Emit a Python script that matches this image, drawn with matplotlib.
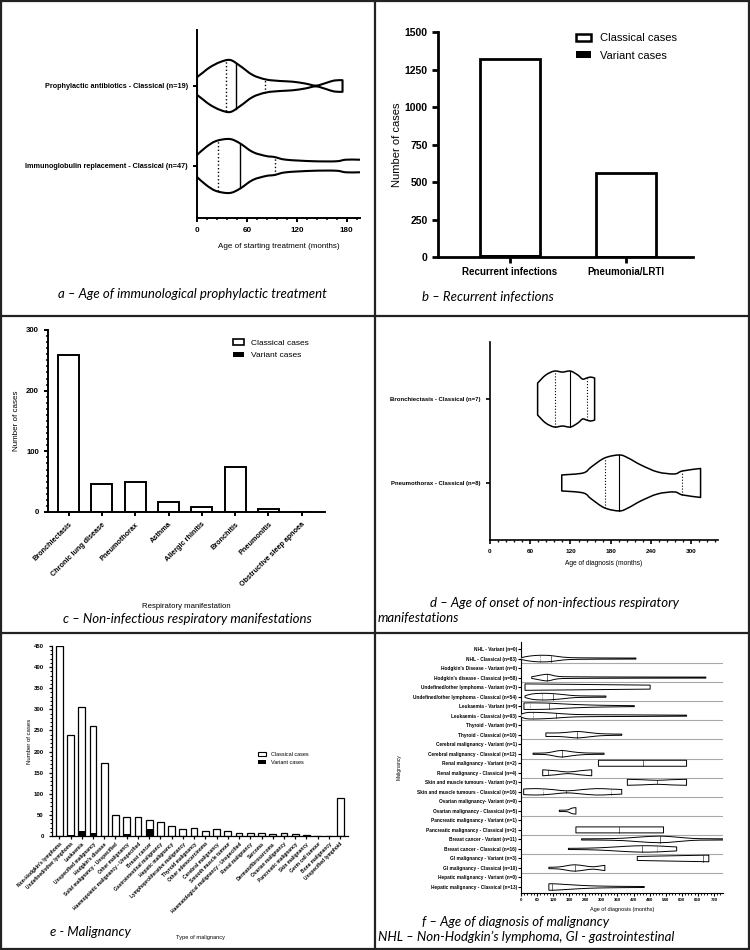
import numpy as np
import matplotlib
matplotlib.use("Agg")
import matplotlib.pyplot as plt
from matplotlib.path import Path
from matplotlib.patches import PathPatch, Patch
from matplotlib.lines import Line2D
from matplotlib.ticker import MultipleLocator

plt.rcParams['font.family'] = ['Liberation Sans', 'DejaVu Sans']
plt.rcParams['font.weight'] = 'bold'
CAPTION_FONT = ['Lato', 'DejaVu Sans']

# ---- panel a: age of starting treatment (violin outlines) ----
a_labels = ["Immunoglobulin replacement - Classical (n=47)",
            "Prophylactic antibiotics - Classical (n=19)"]
a_ages = [[0, 11, 23, 39, 51, 67, 83, 93, 107, 139, 167, 179, 195, 215],
          [0, 8, 16, 28, 40, 52, 67, 83, 100, 115, 130, 143, 155, 165, 175]]
a_halfs = [[11, 19, 25, 27, 23, 14, 10, 9, 6.3, 4.8, 4.7, 6.3, 6.3, 6],
           [8.8, 14, 19, 24, 26, 20, 11, 6.5, 5, 4.3, 2.5, 0.4, 3, 5.5, 5.8]]
a_median = [52, 47]
a_q1 = [25, 35]
a_q3 = [94, 82]

# ---- panel b: recurrent infections ----
b_categories = ["Recurrent infections", "Pneumonia/LRTI"]
b_classical = [1320, 558]
b_variant = [15, 5]

# ---- panel c: non-infectious respiratory manifestations ----
c_categories = ["Bronchiectasis", "Chronic lung disease", "Pneumothorax", "Asthma",
                "Allergic rhinitis", "Bronchitis", "Pneumonitis", "Obstructive sleep apnoea"]
c_classical = [259, 46, 49, 16, 8, 75, 5, 0]
c_variant = [0, 0, 0, 0, 0, 0, 0, 0]

# ---- panel d: age of onset of respiratory manifestations ----
d_labels = ["Pneumothorax - Classical (n=8)", "Bronchiectasis - Classical (n=7)"]
d_ages = [[107, 139, 151, 171, 193, 206, 225, 250, 275, 287, 314],
          [71, 83, 96, 108, 120, 131, 138, 144, 150, 156]]
d_halfs = [[8, 10, 16, 25, 28, 25, 18, 11, 9, 12, 14.5],
           [16, 24, 28, 27, 28, 24, 20, 21, 22, 21]]
d_median = [193, 120]
d_q1 = [172, 97]
d_q3 = [287, 144]

# ---- panel e: malignancy ----
e_categories = ["Non-Hodgkin's lymphoma", "Undefined/other lymphoma", "Leukaemia",
                "Unspecified malignancy", "Hodgkin's disease", "Solid malignancy - Unspecified",
                "Other malignancy", "Haemopoietic malignancy - Unspecified", "Breast cancer",
                "Gastrointestinal malignancy", "Hepatic malignancy", "Lymphoproliferative malignancy",
                "Thyroid malignancy", "Other adenocarcinoma", "Cerebral malignancy",
                "Smooth muscle tumour", "Haematological malignancy - Unspecified",
                "Renal malignancy", "Sarcoma", "Dermatofibrosarcoma", "Ovarian malignancy",
                "Pancreatic malignancy", "Skin malignancy", "Germ cell tumour",
                "Bone malignancy", "Unspecified lymphoid"]
e_classical = [450, 239, 306, 260, 174, 49, 44, 46, 37, 32, 23, 16, 19, 13, 16, 12,
               6, 8, 8, 4, 6, 5, 3, 0, 0, 90]
e_variant = [0, 2, 13, 6, 0, 0, 5, 0, 16, 0, 0, 0, 0, 0, 0, 0,
             0, 0, 0, 0, 0, 0, 0, 0, 0, 0]

# ---- panel f: age of diagnosis of malignancy (top row first) ----
f_labels = ["NHL - Variant (n=0)", "NHL - Classical (n=83)",
            "Hodgkin's Disease - Variant (n=0)", "Hodgkin's disease - Classical (n=58)",
            "Undefined/other lymphoma - Variant (n=3)", "Undefined/other lymphoma - Classical (n=54)",
            "Leukaemia - Variant (n=9)", "Leukaemia - Classical (n=93)",
            "Thyroid - Variant (n=0)", "Thyroid - Classical (n=10)",
            "Cerebral malignancy - Variant (n=1)", "Cerebral malignancy - Classical (n=12)",
            "Renal malignancy - Variant (n=2)", "Renal malignancy - Classical (n=4)",
            "Skin and muscle tumours - Variant (n=3)", "Skin and muscle tumours - Classical (n=16)",
            "Ovarian malignancy- Variant (n=0)", "Ovarian malignancy - Classical (n=5)",
            "Pancreatic malignancy - Variant (n=1)", "Pancreatic malignancy - Classical (n=2)",
            "Breast cancer - Variant (n=11)", "Breast cancer - Classical (n=16)",
            "GI malignancy - Variant (n=3)", "GI malignancy - Classical (n=10)",
            "Hepatic malignancy - Variant (n=0)", "Hepatic malignancy - Classical (n=13)"]
f_ages = [None, [0, 20, 50, 80, 110, 140, 180, 250, 330, 429],
          None, [40, 60, 80, 98, 115, 140, 200, 400, 690],
          [15, 100, 250, 400, 482], [15, 40, 77, 118, 160, 200, 250, 317],
          [11, 33, 70, 105, 160, 250, 350, 423], [0, 20, 46, 90, 130, 180, 250, 400, 618],
          None, [93, 140, 180, 210, 240, 280, 320, 376],
          None, [45, 90, 120, 152, 190, 240, 310],
          [289, 454, 618], [81, 130, 175, 220, 264],
          [397, 450, 509, 560, 618], [10, 60, 120, 170, 220, 280, 330, 376],
          None, [143, 160, 175, 185, 195, 205],
          None, [205, 367, 532],
          [226, 300, 380, 440, 517, 580, 640, 700, 760], [177, 250, 320, 390, 450, 506, 550, 581],
          [434, 550, 678, 701], [104, 140, 170, 201, 240, 270, 300, 313],
          None, [104, 122, 150, 200, 260, 330, 400, 460]]
f_halfs = [None, [0.8, 2.0, 3.0, 3.3, 3.0, 2.0, 1.0, 0.7, 0.6, 0.5],
           None, [0.8, 1.8, 2.8, 3.3, 2.5, 1.2, 0.8, 0.6, 0.5],
           [3.2, 3.0, 2.6, 2.2, 2.0], [0.8, 2.6, 3.3, 3.0, 2.0, 1.0, 0.7, 0.6],
           [3.2, 3.3, 3.2, 3.0, 2.2, 1.2, 0.7, 0.5], [1.5, 3.0, 3.3, 3.0, 2.4, 1.5, 1.0, 0.8, 0.5],
           None, [1.8, 1.8, 2.6, 3.2, 2.6, 1.4, 0.8, 0.6],
           None, [0.6, 0.8, 2.0, 3.3, 2.0, 0.8, 0.6],
           [3.0, 3.0, 3.0], [3.0, 2.0, 0.8, 2.0, 3.0],
           [3.0, 2.6, 2.0, 2.6, 3.0], [2.8, 3.2, 2.2, 1.0, 2.0, 3.2, 2.8, 2.3],
           None, [0.7, 0.7, 1.0, 2.2, 3.0, 3.2],
           None, [3.0, 3.0, 3.0],
           [0.6, 0.7, 1.2, 2.3, 3.3, 2.3, 1.0, 0.7, 0.6], [0.6, 0.8, 1.5, 2.6, 3.2, 3.0, 2.4, 2.0],
           [2.0, 2.6, 3.2, 3.3], [0.7, 1.0, 2.2, 3.2, 2.0, 1.2, 2.2, 2.6],
           None, [3.2, 3.2, 2.8, 2.0, 1.2, 0.8, 0.6, 0.5]]
f_median = [None, 111, None, 98, None, 118, 105, 130, None, 210, None, 152, 454, 100,
            509, 167, None, None, None, 367, 517, 450, 678, 201, None, 115]
f_q1 = [None, 71, None, None, None, 77, 33, 46, None, None, None, None, None, None,
        None, 83, None, None, None, None, None, None, None, None, None, None]
f_q3 = [None, None, None, None, None, None, None, None, None, None, None, None, None, None,
        None, 336, None, None, None, None, None, 506, None, None, None, None]

W, H = 750, 950
fig = plt.figure(figsize=(7.5, 9.5), dpi=100)


def add_ax(x0, y0, x1, y1):
    return fig.add_axes([x0 / W, 1 - y1 / H, (x1 - x0) / W, (y1 - y0) / H])


def cr_bezier(pts):
    pts = np.asarray(pts, float)
    ext = np.vstack([pts[0], pts, pts[-1]])
    verts, codes = [], []
    for i in range(len(pts) - 1):
        p0, p1, p2, p3 = ext[i], ext[i + 1], ext[i + 2], ext[i + 3]
        verts += [p1 + (p2 - p0) / 6, p2 - (p3 - p1) / 6, p2]
        codes += [Path.CURVE4] * 3
    return verts, codes


def violin(ax, y, ages, halfs, med, q1, q3, px_per_unit, lw, mlw):
    ages = np.asarray(ages, float)
    h = np.asarray(halfs, float) / px_per_unit
    top = np.column_stack([ages, y + h])
    bot = np.column_stack([ages[::-1], y - h[::-1]])
    verts, codes = [top[0]], [Path.MOVETO]
    v, c = cr_bezier(top)
    verts += v
    codes += c
    verts.append(bot[0])
    codes.append(Path.LINETO)
    v, c = cr_bezier(bot)
    verts += v
    codes += c
    verts.append(top[0])
    codes.append(Path.CLOSEPOLY)
    ax.add_patch(PathPatch(Path(verts, codes), facecolor='white', edgecolor='black',
                           lw=lw, joinstyle='round', zorder=3))
    for val, ls in ((med, '-'), (q1, ':'), (q3, ':')):
        if val is None:
            continue
        hh = np.interp(val, ages, h)
        ax.plot([val, val], [y - hh, y + hh], color='black', lw=mlw, ls=ls, zorder=4)


def style(ax, lw, size):
    for s in ('top', 'right'):
        ax.spines[s].set_visible(False)
    for s in ('left', 'bottom'):
        ax.spines[s].set_linewidth(lw)
    ax.tick_params(which='major', width=lw, length=size, labelsize=6)
    ax.tick_params(which='minor', width=lw * 0.8, length=size * 0.55)


# ---------- a ----------
ax = add_ax(197, 30, 360, 218)
for i in range(len(a_labels)):
    violin(ax, i + 1, a_ages[i], a_halfs[i], a_median[i], a_q1[i], a_q3[i], 80, 1.5, 1.0)
ax.set_xlim(0, 196)
ax.set_ylim(0.35, 2.7)
ax.set_yticks([1, 2])
ax.set_yticklabels(a_labels, fontsize=5.2)
ax.set_xticks([0, 60, 120, 180])
ax.xaxis.set_minor_locator(MultipleLocator(12))
style(ax, 1.4, 3)
ax.tick_params(axis='x', labelsize=5.8)
ax.tick_params(axis='y', labelsize=5.2)
ax.set_xlabel("Age of starting treatment (months)", fontsize=5.8)
ax.xaxis.set_label_coords(0.5, -0.135)

# ---------- b ----------
ax = add_ax(438, 32, 693, 257)
xb = np.arange(len(b_categories))
ax.bar(xb, b_classical, width=0.52, facecolor='white', edgecolor='black', lw=2.0,
       label='Classical cases', zorder=2)
ax.bar(xb, b_variant, width=0.52, color='black', label='Variant cases', zorder=3)
ax.set_xlim(-0.62, 1.58)
ax.set_ylim(0, 1500)
ax.set_yticks(np.arange(0, 1501, 250))
ax.set_xticks(xb)
ax.set_xticklabels(b_categories)
style(ax, 2.0, 4)
ax.tick_params(axis='y', labelsize=7.5)
ax.tick_params(axis='x', labelsize=7)
ax.set_ylabel("Number of cases", fontsize=8)
ax.yaxis.set_label_coords(-0.14, 0.5)
ax.legend(handles=[Patch(facecolor='white', edgecolor='black', lw=1.8, label='Classical cases'),
                   Patch(facecolor='black', label='Variant cases')],
          loc='upper left', bbox_to_anchor=(0.5, 1.04), frameon=False,
          prop={'weight': 'normal', 'size': 8}, handlelength=1.4, handleheight=0.6,
          labelspacing=0.7)

# ---------- c ----------
ax = add_ax(48, 330, 325, 512)
xc = np.arange(len(c_categories))
ax.bar(xc, c_classical, width=0.63, facecolor='white', edgecolor='black', lw=1.4, zorder=2)
ax.bar(xc, c_variant, width=0.63, color='black', zorder=3)
ax.set_xlim(-0.62, 7.7)
ax.set_ylim(0, 300)
ax.set_yticks([0, 100, 200, 300])
ax.yaxis.set_minor_locator(MultipleLocator(10))
ax.set_xticks(xc)
ax.set_xticklabels(c_categories, rotation=45, ha='right', rotation_mode='anchor')
style(ax, 1.4, 3)
ax.tick_params(axis='y', labelsize=5.6)
ax.tick_params(axis='x', labelsize=5.2)
ax.set_ylabel("Number of cases", fontsize=5.8)
ax.yaxis.set_label_coords(-0.10, 0.5)
ax.set_xlabel("Respiratory manifestation", fontsize=5.6)
ax.xaxis.set_label_coords(0.5, -0.50)
ax.legend(handles=[Patch(facecolor='white', edgecolor='black', lw=1.2, label='Classical cases'),
                   Patch(facecolor='black', label='Variant cases')],
          loc='upper left', bbox_to_anchor=(0.64, 0.99), frameon=False,
          prop={'weight': 'normal', 'size': 6}, handlelength=1.4, handleheight=0.6,
          labelspacing=0.6)

# ---------- d ----------
ax = add_ax(490, 342, 718, 540)
for i in range(len(d_labels)):
    violin(ax, i + 1, d_ages[i], d_halfs[i], d_median[i], d_q1[i], d_q3[i], 84, 1.1, 0.8)
ax.set_xlim(0, 340)
ax.set_ylim(0.32, 2.68)
ax.set_yticks([1, 2])
ax.set_yticklabels(d_labels)
ax.set_xticks(np.arange(0, 301, 60))
ax.xaxis.set_minor_locator(MultipleLocator(12))
style(ax, 1.2, 3)
ax.tick_params(axis='x', labelsize=4.6)
ax.tick_params(axis='y', labelsize=4.3)
ax.set_xlabel("Age of diagnosis (months)", fontsize=4.8)
ax.xaxis.set_label_coords(0.5, -0.10)

# ---------- e ----------
ax = add_ax(52, 646, 348, 836)
xe = np.arange(len(e_categories))
ax.bar(xe, e_classical, width=0.6, facecolor='white', edgecolor='black', lw=0.9, zorder=2)
ax.bar(xe, e_variant, width=0.6, color='black', zorder=3)
ax.set_xlim(-0.65, 25.7)
ax.set_ylim(0, 450)
ax.set_yticks(np.arange(0, 451, 50))
ax.yaxis.set_minor_locator(MultipleLocator(10))
ax.set_xticks(xe)
ax.set_xticklabels(e_categories, rotation=45, ha='right', rotation_mode='anchor')
style(ax, 0.9, 2.5)
ax.tick_params(axis='y', labelsize=4.3)
ax.tick_params(axis='x', labelsize=3.5, pad=1.5)
ax.set_ylabel("Number of cases", fontsize=4.3)
ax.yaxis.set_label_coords(-0.068, 0.5)
ax.set_xlabel("Type of malignancy", fontsize=4.1)
ax.xaxis.set_label_coords(0.5, -0.52)
ax.legend(handles=[Patch(facecolor='white', edgecolor='black', lw=0.8, label='Classical cases'),
                   Patch(facecolor='black', label='Variant cases')],
          loc='upper left', bbox_to_anchor=(0.68, 0.47), frameon=False,
          prop={'weight': 'normal', 'size': 4}, handlelength=1.4, handleheight=0.6,
          labelspacing=0.6)

# ---------- f ----------
ax = add_ax(521, 642, 723, 893)
nrow = len(f_labels)
ypos = nrow - 1 - np.arange(nrow)
for k in range(nrow):
    if f_ages[k] is None:
        continue
    violin(ax, ypos[k], f_ages[k], f_halfs[k], f_median[k], f_q1[k], f_q3[k], 9.52, 0.7, 0.4)
for k in range(1, nrow - 2, 2):
    ax.axhline(ypos[k] - 0.5, color='#a8a8a8', lw=0.8, zorder=1)
ax.set_xlim(0, 754)
ax.set_ylim(-0.63, nrow - 1 + 0.74)
ax.set_yticks(ypos)
ax.set_yticklabels(f_labels)
ax.set_xticks(np.arange(0, 721, 60))
ax.xaxis.set_minor_locator(MultipleLocator(12))
style(ax, 0.8, 2)
ax.tick_params(axis='x', labelsize=3.2, pad=1.5)
ax.tick_params(axis='y', labelsize=3.4, pad=1)
ax.set_xlabel("Age of diagnosis (months)", fontsize=4)
ax.xaxis.set_label_coords(0.5, -0.056)
ax.set_ylabel("Malignancy", fontsize=3.6)
ax.yaxis.set_label_coords(-0.59, 0.5)

# ---------- frame and captions ----------
def fig_line(x0, y0, x1, y1, lw=1.6):
    fig.add_artist(Line2D([x0 / W, x1 / W], [1 - y0 / H, 1 - y1 / H], color='#222222',
                          lw=lw, transform=fig.transFigure))


fig_line(1, 1, 749, 1)
fig_line(1, 949, 749, 949)
fig_line(1, 1, 1, 949)
fig_line(749, 1, 749, 949)
fig_line(375, 1, 375, 949)
fig_line(1, 316, 749, 316)
fig_line(1, 633, 749, 633)


def caption(x, y, s, ha='left'):
    fig.text(x / W, 1 - y / H, s, ha=ha, va='center', fontsize=9.5, style='italic',
             weight='normal', family=CAPTION_FONT)


caption(192, 294, "a – Age of immunological prophylactic treatment", ha='center')
caption(422, 297, "b – Recurrent infections")
caption(187, 619, "c – Non-infectious respiratory manifestations", ha='center')
caption(430, 603, "d – Age of onset of non-infectious respiratory")
caption(378, 618, "manifestations")
caption(50, 932, "e - Malignancy")
caption(422, 922, "f – Age of diagnosis of malignancy")
caption(378, 937, "NHL – Non-Hodgkin’s lymphoma, GI - gastrointestinal")

fig.savefig("out.png", dpi=100)
